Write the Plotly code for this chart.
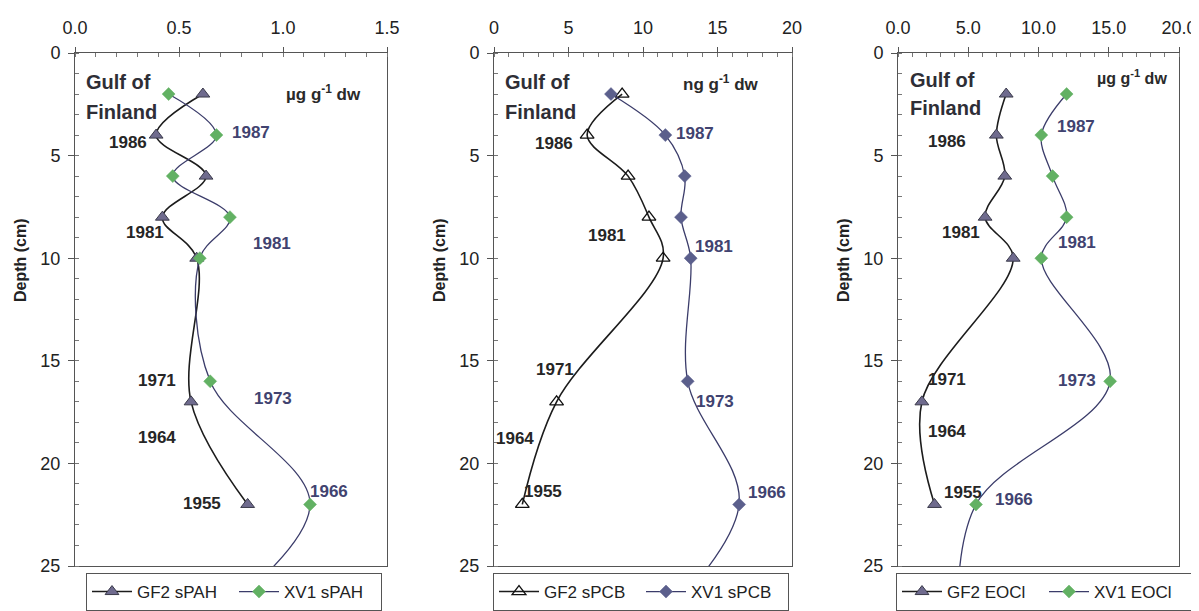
import plotly.graph_objects as go

# ---------------- data ----------------
depth_gf2 = [2, 4, 6, 8, 10, 17, 22]
depth_xv1 = [2, 4, 6, 8, 10, 16, 22, 28]   # last point lies below the plotted range

pah_gf2 = [0.615, 0.39, 0.63, 0.42, 0.585, 0.558, 0.83]
pah_xv1 = [0.45, 0.68, 0.47, 0.745, 0.60, 0.65, 1.13, 0.62]

pcb_gf2 = [8.6, 6.25, 9.0, 10.4, 11.35, 4.2, 1.9]
pcb_xv1 = [7.85, 11.5, 12.8, 12.55, 13.2, 13.0, 16.45, 10.8]

eocl_gf2 = [7.7, 7.0, 7.6, 6.2, 8.2, 1.7, 2.6]
eocl_xv1 = [12.0, 10.2, 11.0, 12.0, 10.2, 15.1, 5.55, 4.25]

names_gf2 = ["GF2 sPAH", "GF2 sPCB", "GF2 EOCl"]
names_xv1 = ["XV1 sPAH", "XV1 sPCB", "XV1 EOCl"]
units = ["µg g<sup>-1</sup> dw", "ng g<sup>-1</sup> dw", "µg g<sup>-1</sup> dw"]

x_ranges = [[0, 1.5], [0, 20], [0, 20]]
x_dticks = [0.5, 5, 5]
x_minor = [0.1, 1, 1]
x_formats = [".1f", "d", ".1f"]

year_labels_gf2 = ["1986", "1981", "1971", "1964", "1955"]
year_labels_xv1 = ["1987", "1981", "1973", "1966"]

# label anchor positions (data coordinates) per panel
gf2_label_pos = [
    [(0.255, 4.34), (0.337, 8.77), (0.394, 15.98), (0.394, 18.76), (0.611, 21.93)],
    [(4.03, 4.39), (7.58, 8.87), (4.09, 15.4), (1.41, 18.81), (3.29, 21.35)],
    [(3.49, 4.32), (4.48, 8.74), (3.49, 15.92), (3.49, 18.45), (4.63, 21.41)],
]
xv1_label_pos = [
    [(0.846, 3.85), (0.947, 9.26), (0.952, 16.86), (1.221, 21.35)],
    [(13.49, 3.9), (14.77, 9.41), (14.83, 16.96), (18.32, 21.44)],
    [(12.67, 3.59), (12.74, 9.22), (12.74, 15.97), (8.26, 21.75)],
]
gulf_pos = [(0.043, 1.41, 2.88), (0.6, 1.41, 2.88), (0.71, 1.31, 2.67)]
unit_pos = [(1.197, 1.95), (15.23, 1.46), (16.65, 1.17)]

# ---------------- styling ----------------
FONT = "Liberation Sans, Arial, sans-serif"
PAGE_PAD = 8                     # default body margin of the html page
W, H = 1199 - PAGE_PAD, 611 - PAGE_PAD


def px_x(p):
    return (p - PAGE_PAD) / W


def px_y(p):
    return (H - (p - PAGE_PAD)) / H


x_dom_px = [(75, 387), (494, 792), (898, 1179)]
y_top_px, y_bot_px = 53, 566
y_dom = [px_y(y_bot_px), px_y(y_top_px)]
legend_left_px = [86, 493, 896]
legend_top_px = 573
ytitle_x_px = [20, 439, 843]

BLACK_LINE = "#1c1c1c"
NAVY_LINE = "#3b3c6a"
GREEN = "#62b163"
TRI_FILL = "#6f6b8e"
NAVY_DIAMOND = "#5b5f8c"
GF2_TXT = "#262626"
XV1_TXT = "#414370"

gf2_marker = [
    dict(symbol="triangle-up", size=12, color=TRI_FILL, line=dict(color="#3a3a4a", width=1)),
    dict(symbol="triangle-up-open", size=12, color="#111111", line=dict(color="#111111", width=1.3)),
    dict(symbol="triangle-up", size=12, color=TRI_FILL, line=dict(color="#3a3a4a", width=1)),
]
xv1_marker = [
    dict(symbol="diamond", size=10, color=GREEN, line=dict(color=GREEN, width=0.5)),
    dict(symbol="diamond", size=10, color=NAVY_DIAMOND, line=dict(color=NAVY_DIAMOND, width=0.5)),
    dict(symbol="diamond", size=10, color=GREEN, line=dict(color=GREEN, width=0.5)),
]

series_gf2 = [pah_gf2, pcb_gf2, eocl_gf2]
series_xv1 = [pah_xv1, pcb_xv1, eocl_xv1]

fig = go.Figure()
annotations = []
layout = dict(
    width=W, height=H,
    margin=dict(l=0, r=0, t=0, b=0, autoexpand=False),
    paper_bgcolor="white", plot_bgcolor="white",
    font=dict(family=FONT, color="#222222", size=17),
    showlegend=True,
)

for i in range(3):
    sfx = "" if i == 0 else str(i + 1)
    xa, ya = "x" + sfx, "y" + sfx
    leg = "legend" + sfx

    fig.add_trace(go.Scatter(
        x=series_gf2[i], y=depth_gf2, name=names_gf2[i], mode="lines+markers",
        line=dict(color=BLACK_LINE, width=1.6, shape="spline", smoothing=1),
        marker=gf2_marker[i], xaxis=xa, yaxis=ya, legend=leg,
    ))
    fig.add_trace(go.Scatter(
        x=series_xv1[i], y=depth_xv1, name=names_xv1[i], mode="lines+markers",
        line=dict(color=NAVY_LINE, width=1.3, shape="spline", smoothing=1),
        marker=xv1_marker[i], xaxis=xa, yaxis=ya, legend=leg,
    ))

    x0, x1 = x_dom_px[i]
    layout["xaxis" + sfx] = dict(
        domain=[px_x(x0), px_x(x1)], anchor=ya, side="top", automargin=False,
        range=x_ranges[i], dtick=x_dticks[i], tick0=0, tickformat=x_formats[i],
        showgrid=False, zeroline=False,
        showline=True, linecolor="#555555", linewidth=1, mirror=True,
        ticks="outside", ticklen=5, tickcolor="#555555",
        minor=dict(dtick=x_minor[i], ticks="inside", ticklen=4, tickcolor="#777777", showgrid=False),
        tickfont=dict(size=18, color="#222222"), ticklabelstandoff=6,
    )
    layout["yaxis" + sfx] = dict(
        domain=y_dom, anchor=xa, automargin=False,
        range=[25, 0], dtick=5, tick0=0,
        showgrid=False, zeroline=False,
        showline=True, linecolor="#555555", linewidth=1, mirror=True,
        ticks="outside", ticklen=6, tickcolor="#555555",
        minor=dict(dtick=1, ticks="inside", ticklen=4, tickcolor="#777777", showgrid=False),
        tickfont=dict(size=18, color="#222222"), ticklabelstandoff=4,
    )
    layout[leg] = dict(
        x=px_x(legend_left_px[i]), y=px_y(legend_top_px),
        xanchor="left", yanchor="top", orientation="h",
        bordercolor="#555555", borderwidth=1, bgcolor="white",
        font=dict(size=17, color="#222222", family=FONT),
        entrywidth=92, itemwidth=40,
    )

    # y title
    annotations.append(dict(
        x=px_x(ytitle_x_px[i]), y=px_y(260),
        xref="paper", yref="paper", text="<b>Depth (cm)</b>", textangle=-90,
        xanchor="center", yanchor="middle",
        showarrow=False, font=dict(size=16, color="#222222"),
    ))
    # Gulf of Finland
    gx, gy1, gy2 = gulf_pos[i]
    for txt, gy in (("Gulf of", gy1), ("Finland", gy2)):
        annotations.append(dict(
            x=gx, y=gy, xref=xa, yref=ya, text="<b>" + txt + "</b>",
            xanchor="left", yanchor="middle", showarrow=False,
            font=dict(size=20, color="#2e2e36"),
        ))
    ux, uy = unit_pos[i]
    annotations.append(dict(
        x=ux, y=uy, xref=xa, yref=ya, text="<b>" + units[i] + "</b>",
        xanchor="center", yanchor="middle", showarrow=False,
        font=dict(size=17 if i < 2 else 16, color="#2a2a2a"),
    ))
    for txt, (lx, ly) in zip(year_labels_gf2, gf2_label_pos[i]):
        annotations.append(dict(
            x=lx, y=ly, xref=xa, yref=ya, text="<b>" + txt + "</b>",
            showarrow=False, font=dict(size=17, color=GF2_TXT),
        ))
    for txt, (lx, ly) in zip(year_labels_xv1, xv1_label_pos[i]):
        annotations.append(dict(
            x=lx, y=ly, xref=xa, yref=ya, text="<b>" + txt + "</b>",
            showarrow=False, font=dict(size=17, color=XV1_TXT),
        ))

layout["annotations"] = annotations
fig.update_layout(**layout)
fig.write_html("out.html")
